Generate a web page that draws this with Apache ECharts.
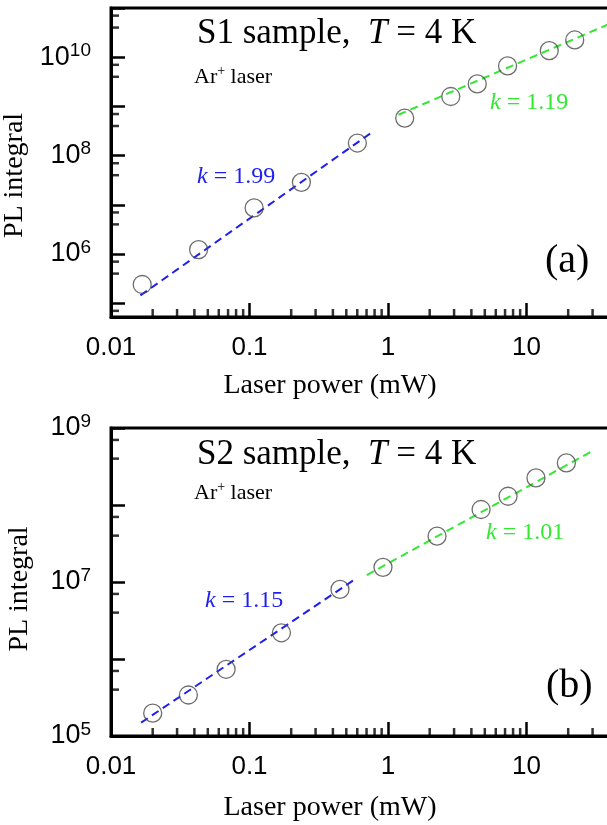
<!DOCTYPE html>
<html><head><meta charset="utf-8">
<script src="https://cdn.jsdelivr.net/npm/echarts@6/dist/echarts.min.js"></script>
<style>html,body{margin:0;padding:0;background:#fff;}#c{width:607px;height:825px;}</style>
</head><body><div id="c"></div>
<script>
// ---- Panel (a): S1 sample ----
const s1Power = [0.0168, 0.0429, 0.108, 0.237, 0.601, 1.32, 2.84, 4.41, 7.30, 14.6, 22.3];
const s1PL    = [2.4e5, 1.23e6, 8.65e6, 2.86e7, 1.80e8, 5.79e8, 1.59e9, 2.87e9, 6.66e9, 1.36e10, 2.24e10];
const s1FitLow  = [[0.0163, 1.44e5], [0.794, 3.2e8]];
const s1FitHigh = [[1.19, 6.76e8], [50, 6.3e10]];
// ---- Panel (b): S2 sample ----
const s2Power = [0.0200, 0.0362, 0.0678, 0.170, 0.450, 0.92, 2.26, 4.70, 7.36, 11.7, 19.4];
const s2PL    = [1.98e5, 3.41e5, 7.35e5, 2.19e6, 8.02e6, 1.55e7, 3.94e7, 8.74e7, 1.30e8, 2.25e8, 3.52e8];
const s2FitLow  = [[0.0165, 1.49e5], [0.598, 1.13e7]];
const s2FitHigh = [[0.703, 1.23e7], [30.0, 5.04e8]];
// ---- ticks ----
const xTickValues = [0.01, 0.1, 1, 10];
const xTickLabels = ['0.01', '0.1', '1', '10'];
const yLabelsA = [1e6, 1e8, 1e10];
const yLabelsB = [1e5, 1e7, 1e9];
const xMinorMults = [2, 3, 4, 5, 6, 7, 8, 9];
const yMinorMults = [4, 7];
const xRange = [0.01, 100];
const yRangeA = [Math.pow(10, 4.72), 1e11];
const yRangeB = [1e5, 1e9];

const L = Math.log10;
const serif = "'Liberation Serif', 'Times New Roman', serif";
const sans = "'Liberation Sans', Arial, sans-serif";
const BLUE = '#1f1ff0', GREEN = '#33e833';

function decadesMinor(lo, hi, mults) {
  const out = [];
  for (let k = Math.floor(lo) - 1; k <= Math.ceil(hi); k++) {
    for (let j = 0; j < mults.length; j++) {
      const v = L(mults[j]) + k;
      if (v > lo + 1e-9 && v < hi - 1e-9) out.push(v);
    }
  }
  return out;
}
function decades(lo, hi) {
  const out = [];
  for (let k = Math.ceil(lo); k <= Math.floor(hi); k++) out.push(k);
  return out;
}
const tickLine = () => ({color: '#000', width: 2.5});

function makeX(gi, nameGap) {
  const lo = L(xRange[0]), hi = L(xRange[1]);
  return {
    type: 'value', gridIndex: gi, min: lo, max: hi, position: 'bottom',
    axisLine: {show: true, onZero: false, lineStyle: {color: '#000', width: 3}},
    axisTick: {show: true, inside: true, length: 14, lineStyle: tickLine(), customValues: decades(lo, hi)},
    axisLabel: {customValues: xTickValues.map(L), margin: 18, color: '#000', fontFamily: sans, fontSize: 26,
      formatter: v => { const i = xTickValues.findIndex(t => Math.abs(L(t) - v) < 1e-6); return i >= 0 ? xTickLabels[i] : ''; }},
    splitLine: {show: false},
    name: 'Laser power (mW)', nameLocation: 'middle', nameGap: nameGap,
    nameTextStyle: {fontFamily: serif, fontSize: 28, color: '#000', padding: [0, 116, 0, 0]}
  };
}
function makeY(gi, range, labels, namePad) {
  const lo = L(range[0]), hi = L(range[1]);
  return {
    type: 'value', gridIndex: gi, min: lo, max: hi, position: 'left',
    axisLine: {show: true, onZero: false, lineStyle: {color: '#000', width: 3}},
    axisTick: {show: true, inside: true, length: 14, lineStyle: tickLine(), customValues: decades(lo, hi)},
    axisLabel: {customValues: labels.map(L), margin: 20,
      formatter: v => '{b|10}{s|' + Math.round(v) + '}',
      rich: {b: {fontFamily: sans, fontSize: 27, lineHeight: 32, color: '#000'},
             s: {fontFamily: sans, fontSize: 19, lineHeight: 19, color: '#000', verticalAlign: 'top'}}},
    splitLine: {show: false},
    name: 'PL integral', nameLocation: 'middle', nameGap: 77,
    nameTextStyle: {fontFamily: serif, fontSize: 28, color: '#000', padding: [0, namePad, 0, 0]}
  };
}

// minor ticks: small rect symbols placed through the axes' own scales
function minorTicksX(ai, yRange) {
  const lo = L(xRange[0]), hi = L(xRange[1]);
  return {type: 'scatter', xAxisIndex: ai, yAxisIndex: ai, clip: false, z: 6,
    data: decadesMinor(lo, hi, xMinorMults).map(v => [v, L(yRange[0])]),
    symbol: 'rect', symbolSize: [2.5, 8], symbolOffset: [0, -4], itemStyle: {color: '#000'}};
}
function minorTicksY(ai, yRange) {
  const lo = L(yRange[0]), hi = L(yRange[1]);
  return {type: 'scatter', xAxisIndex: ai, yAxisIndex: ai, clip: false, z: 6,
    data: decadesMinor(lo, hi, yMinorMults).map(v => [L(xRange[0]), v]),
    symbol: 'rect', symbolSize: [8, 2.5], symbolOffset: [4, 0], itemStyle: {color: '#000'}};
}

function pts(xs, ys) { return xs.map((x, i) => [L(x), L(ys[i])]); }
function fit(p) { return p.map(q => [L(q[0]), L(q[1])]); }

function scatter(ai, data) {
  return {type: 'scatter', xAxisIndex: ai, yAxisIndex: ai, data: data, symbol: 'circle', symbolSize: 18,
    itemStyle: {color: 'rgba(0,0,0,0)', borderColor: '#4a4a4a', borderWidth: 1.3}, z: 3, silent: true};
}
function fitLine(ai, data, color) {
  return {type: 'line', xAxisIndex: ai, yAxisIndex: ai, data: data, showSymbol: false, symbol: 'none',
    lineStyle: {color: color, width: 2, type: [8, 5]}, z: 2, silent: true};
}
function txt(x, y, str, rich) {
  return {type: 'text', x: x, y: y, silent: true,
    style: {text: str, rich: rich, verticalAlign: 'middle', align: 'left'}};
}
function titleRich(fs) {
  return {n: {fontFamily: serif, fontSize: fs, fill: '#000'}, i: {fontFamily: serif, fontSize: fs, fontStyle: 'italic', fill: '#000'}};
}
function laserRich() {
  return {n: {fontFamily: serif, fontSize: 22, lineHeight: 26, fill: '#000'},
          s: {fontFamily: serif, fontSize: 14, lineHeight: 14, verticalAlign: 'top', fill: '#000'}};
}
function kRich(color) {
  return {n: {fontFamily: serif, fontSize: 24, fill: color}, i: {fontFamily: serif, fontSize: 24, fontStyle: 'italic', fill: color}};
}

const option = {
  animation: false,
  backgroundColor: '#fff',
  grid: [
    {left: 111, right: -58, top: 8, height: 309, show: true, borderColor: '#000', borderWidth: 3, outerBoundsMode: 'none', containLabel: false},
    {left: 111, right: -58, top: 428, height: 308, show: true, borderColor: '#000', borderWidth: 3, outerBoundsMode: 'none', containLabel: false}
  ],
  xAxis: [makeX(0, 55), makeX(1, 58)],
  yAxis: [makeY(0, yRangeA, yLabelsA, 26), makeY(1, yRangeB, yLabelsB, 14)],
  series: [
    fitLine(0, fit(s1FitLow), BLUE),
    fitLine(0, fit(s1FitHigh), GREEN),
    scatter(0, pts(s1Power, s1PL)),
    minorTicksX(0, yRangeA),
    minorTicksY(0, yRangeA),
    fitLine(1, fit(s2FitLow), BLUE),
    fitLine(1, fit(s2FitHigh), GREEN),
    scatter(1, pts(s2Power, s2PL)),
    minorTicksX(1, yRangeB),
    minorTicksY(1, yRangeB)
  ],
  graphic: [
    txt(197, 34, '{n|S1 sample,  }{i|T}{n| = 4 K}', titleRich(35)),
    txt(194, 77, '{n|Ar}{s|+}{n| laser}', laserRich()),
    txt(197, 177, '{i|k}{n| = 1.99}', kRich(BLUE)),
    txt(490, 103, '{i|k}{n| = 1.19}', kRich(GREEN)),
    txt(545, 261, '{n|(a)}', titleRich(40)),
    txt(197, 455, '{n|S2 sample,  }{i|T}{n| = 4 K}', titleRich(35)),
    txt(194, 493, '{n|Ar}{s|+}{n| laser}', laserRich()),
    txt(205, 601, '{i|k}{n| = 1.15}', kRich(BLUE)),
    txt(486, 533, '{i|k}{n| = 1.01}', kRich(GREEN)),
    txt(546, 686, '{n|(b)}', titleRich(40))
  ]
};
const chart = echarts.init(document.getElementById('c'), null, {renderer: 'canvas'});
chart.setOption(option);
</script></body></html>
